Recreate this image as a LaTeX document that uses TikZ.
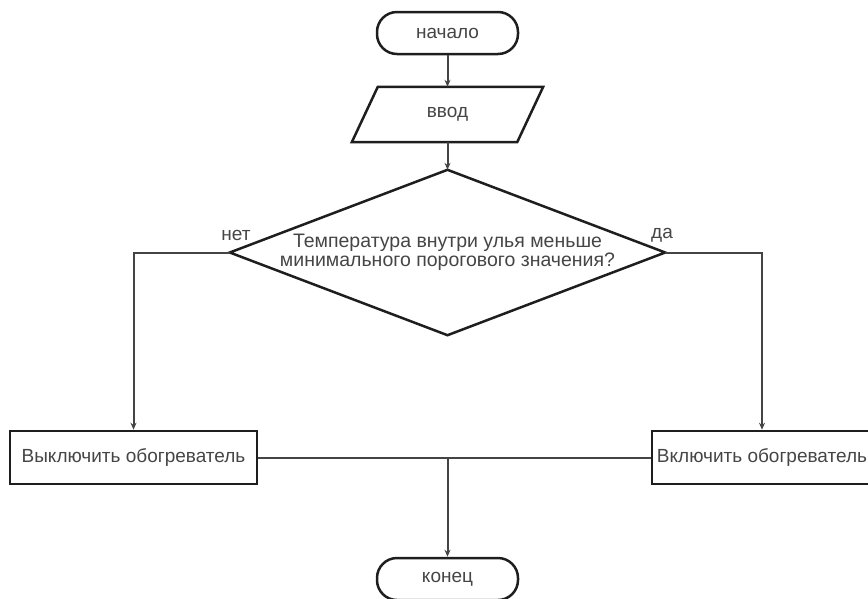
\documentclass[tikz,border=0pt]{standalone}
\usepackage{fontspec}
\setmainfont{Liberation Sans}
\usetikzlibrary{calc,arrows.meta}
\definecolor{txt}{HTML}{454545}
\definecolor{edge}{HTML}{1E1E1E}
\definecolor{conn}{HTML}{444444}
\begin{document}
\begin{tikzpicture}[x=1pt,y=-1pt,
  every node/.style={font=\fontsize{19}{21}\selectfont, text=txt},
  term/.style={draw=edge, line width=2.5pt, rounded corners=20pt, minimum width=141pt, minimum height=42pt, inner sep=0pt},
  box/.style={draw=edge, line width=2.6pt, minimum height=53pt, inner sep=0pt},
  ghost/.style={minimum width=#1, inner sep=0pt},
  conn/.style={draw=conn, line width=2pt},
  arr/.style={conn, -{Stealth[length=7pt,width=6pt]}},
  lbl/.style={inner sep=0pt}
]
\useasboundingbox (0,0) rectangle (868,598);
\node[term] (start) at (447.5,33) {начало};
\node[ghost=191pt, minimum height=55pt] (input) at (447.5,114.5) {ввод};
\draw[edge, line width=2.5pt, line join=miter]
  (input.south west) -- ($(input.north west)+(26,0)$) -- (input.north east)
  -- ($(input.south east)+(-26,0)$) -- cycle;
\node[ghost=435pt, minimum height=165pt, align=center, font=\fontsize{19.5}{18.5}\selectfont] (dec) at (447.5,252.5)
  {Температура внутри улья меньше\\минимального порогового значения?};
\draw[edge, line width=2.5pt] (dec.north) -- (dec.east) -- (dec.south) -- (dec.west) -- cycle;
\node[box, minimum width=247pt] (off) at (133.5,457.5) {Выключить обогреватель};
\node[box, minimum width=220pt] (on) at (762,457.5) {Включить обогреватель};
\node[term] (end) at (447.5,579) {конец};
\coordinate (merge) at (447.5,457.5);
\node[lbl] (no) at (236,235) {нет};
\node[lbl] (yes) at (662,235) {да};
\draw[arr] (start.south) -- (input.north);
\draw[arr] (input.south) -- (dec.north);
\draw[arr] (dec.west) -| (off.north);
\draw[arr] (dec.east) -| (on.north);
\draw[conn] (off.east) -- (on.west);
\draw[arr] (merge) -- (end.north);
\end{tikzpicture}
\end{document}
